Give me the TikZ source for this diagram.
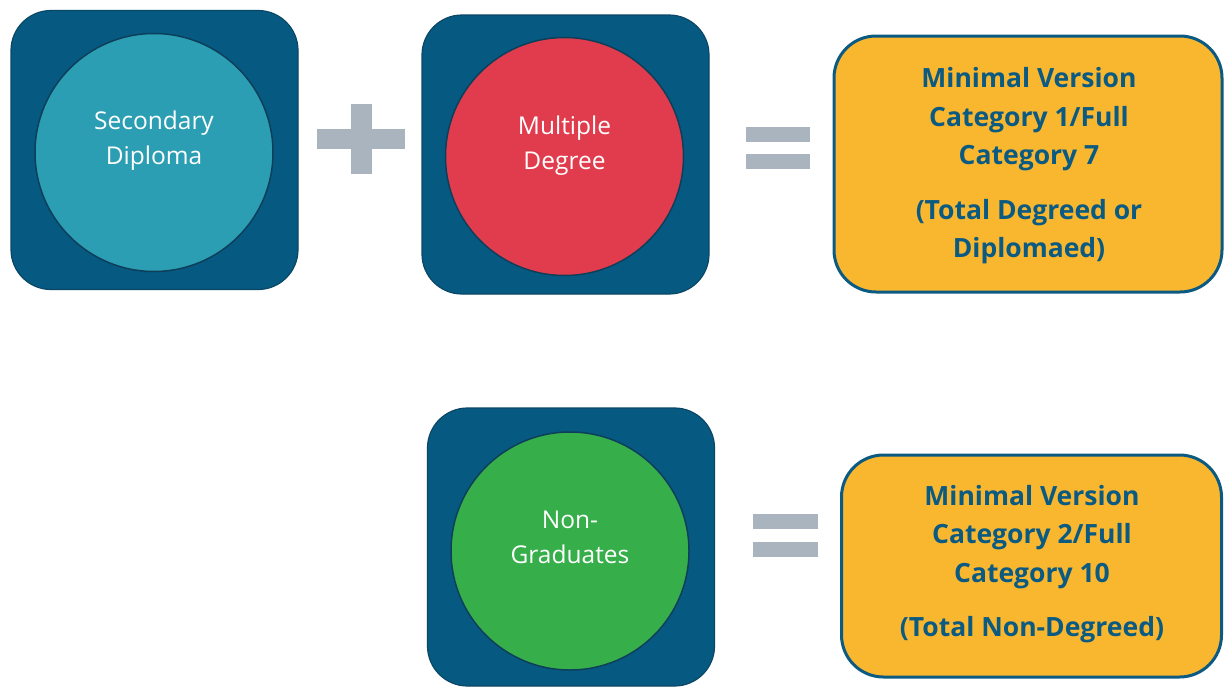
\documentclass[tikz,border=0pt]{standalone}
\usepackage{fontspec}
\setmainfont{Open Sans}
\definecolor{boxblue}{HTML}{065A82}
\definecolor{boxedge}{HTML}{0A4766}
\definecolor{circedge}{HTML}{0D3F5A}
\definecolor{teal}{HTML}{2B9EB3}
\definecolor{redc}{HTML}{E03C4D}
\definecolor{greenc}{HTML}{36AE4A}
\definecolor{orangec}{HTML}{F9B72F}
\definecolor{symgrey}{HTML}{A9B4BF}
\definecolor{txtblue}{HTML}{0B5A82}
\tikzset{
  sqbox/.style={draw=boxedge, line width=1.2pt, fill=boxblue, rounded corners=40pt, minimum width=287pt, minimum height=279pt, inner sep=0pt},
  circ/.style={circle, draw=circedge, line width=1.5pt, minimum size=238pt, inner sep=0pt, text=white, align=center, font=\fontsize{24.5}{35.5}\selectfont},
  resbox/.style={draw=txtblue, line width=3pt, fill=orangec, rounded corners=42pt, inner sep=0pt},
  restext/.style={text=txtblue, align=center, font=\bfseries\fontsize{26.5}{38.5}\selectfont},
  sym/.style={fill=symgrey, draw=none}
}
\begin{document}
\begin{tikzpicture}[x=1pt,y=-1pt]
\useasboundingbox (0,0) rectangle (1227,686);
% top row
\node[sqbox] (b1) at (154.5,150) {};
\node[circ, fill=teal] (c1) at (154,152.5) {\raisebox{48pt}{\parbox{200pt}{\centering Secondary\\Diploma}}};
\node[sqbox] (b2) at (565.5,154.5) {};
\node[circ, fill=redc] (c2) at (564.5,156.5) {\raisebox{46pt}{\parbox{200pt}{\centering Multiple\\Degree}}};
\node[resbox, minimum width=388pt, minimum height=256pt] (r1) at (1028,164) {};
\node[restext] (t1) at (1029,166) {Minimal Version\\Category 1/Full\\Category 7\\[16pt](Total Degreed or\\Diplomaed)};
% plus
\fill[sym] (317,129) rectangle (405,149);
\fill[sym] (351,104) rectangle (372,174);
% equals top
\fill[sym] (746,127) rectangle (810,142);
\fill[sym] (746,154) rectangle (810,169);
% bottom row
\node[sqbox, minimum height=278pt] (b3) at (571,547) {};
\node[circ, fill=greenc] (c3) at (570,551) {\raisebox{48pt}{\parbox{200pt}{\centering Non-\\Graduates}}};
\node[resbox, minimum width=380pt, minimum height=222pt] (r2) at (1031.5,566) {};
\node[restext] (t2) at (1032,564) {Minimal Version\\Category 2/Full\\Category 10\\[16pt](Total Non-Degreed)};
% equals bottom
\fill[sym] (753,514) rectangle (818,529);
\fill[sym] (753,542) rectangle (818,557);
\end{tikzpicture}
\end{document}
